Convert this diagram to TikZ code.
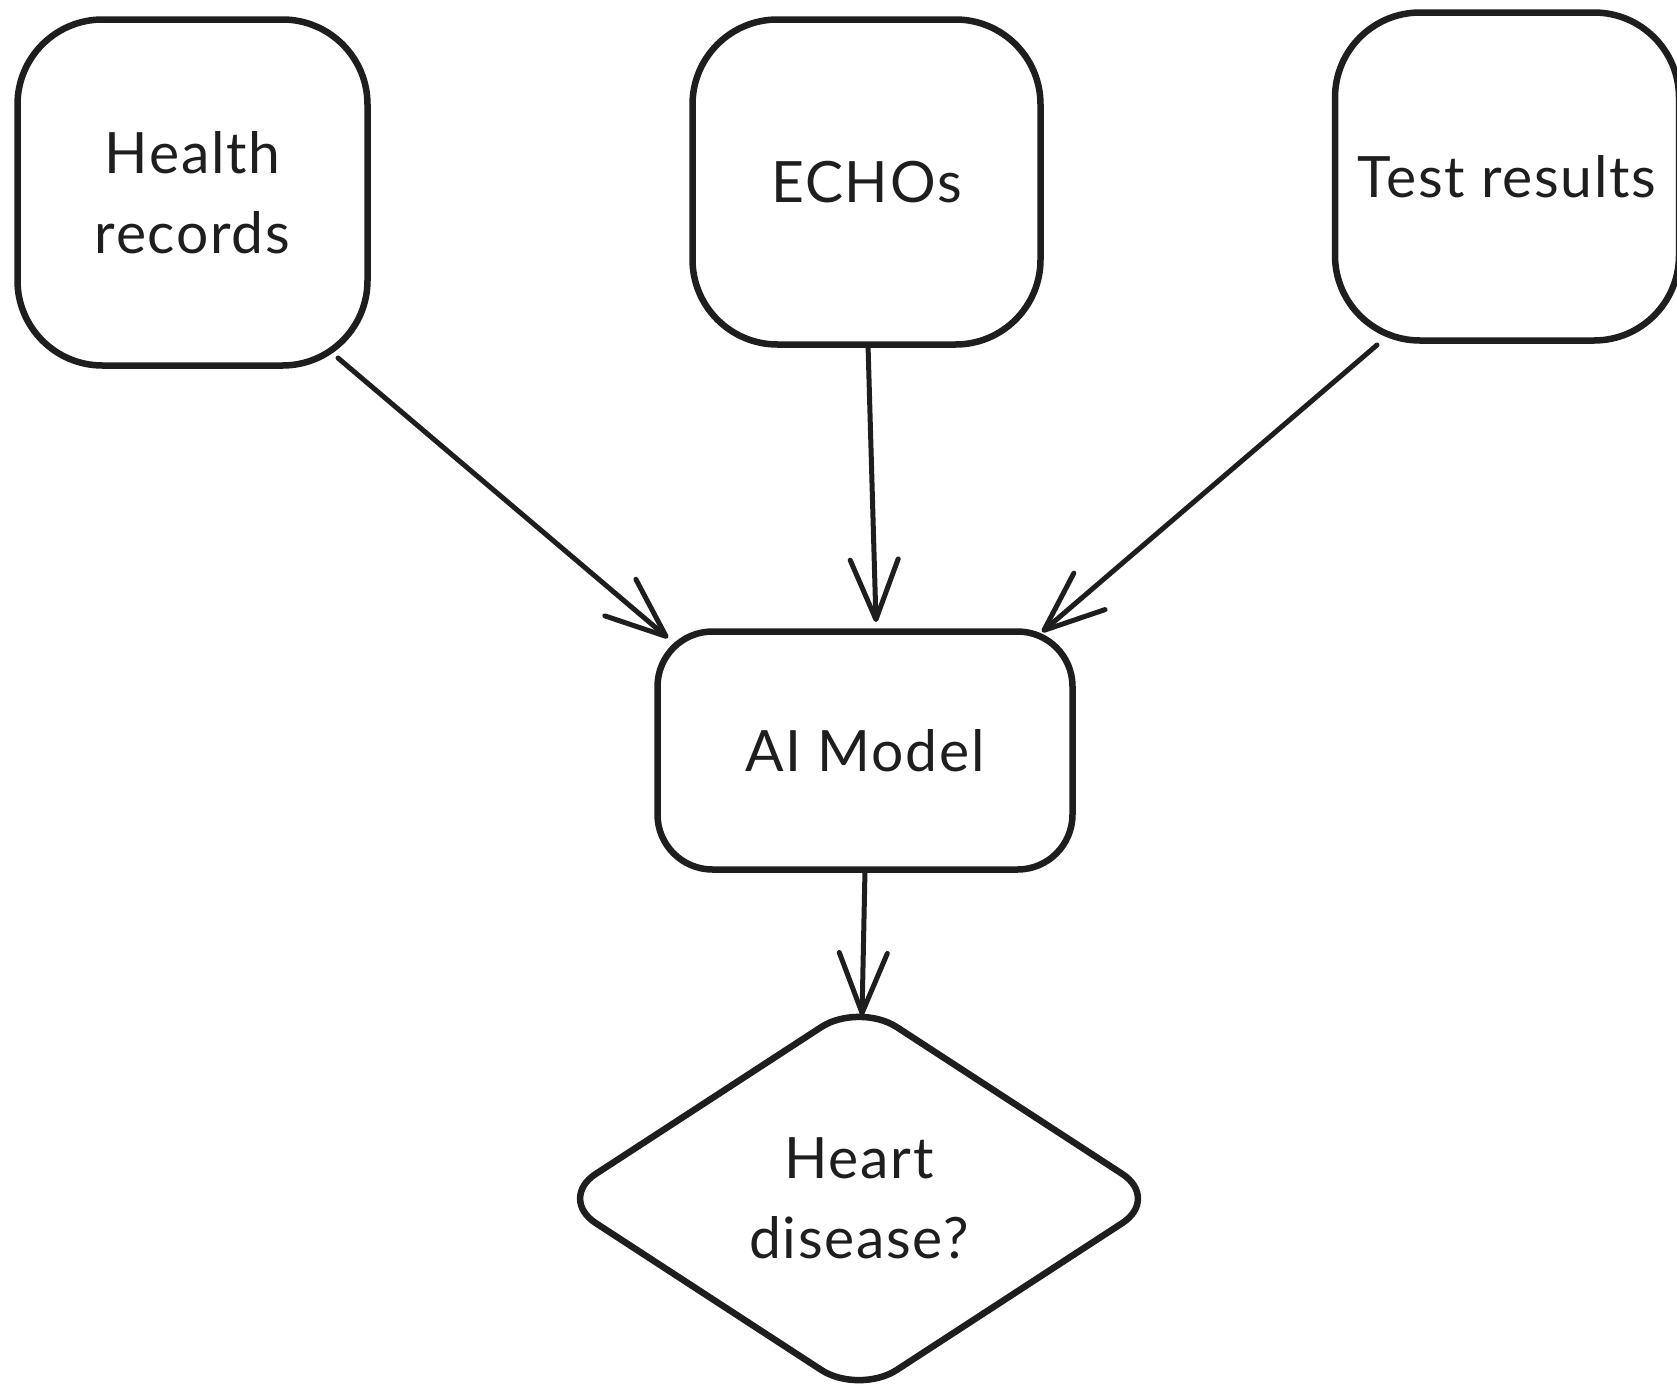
\documentclass[tikz,border=0pt]{standalone}
\usepackage{fontspec}
\setmainfont[LetterSpace=3.0]{Lato}
\usetikzlibrary{arrows.meta,shapes.geometric}
\definecolor{ink}{HTML}{1E1E1E}

\begin{document}
\begin{tikzpicture}[x=1pt, y=-1pt,
  >={Straight Barb[length=60pt,width=48pt,round]},
  font=\fontsize{57}{80}\selectfont,
  inbox/.style={draw=ink, text=ink, line width=6.5pt, rounded corners=85pt,
    align=center, inner sep=0pt, outer sep=0pt},
  modelbox/.style={draw=ink, text=ink, line width=6.5pt, rounded corners=55pt,
    align=center, inner sep=0pt, outer sep=0pt},
  decision/.style={draw=ink, text=ink, diamond, line width=6.5pt, rounded corners=45pt,
    align=center, inner sep=0pt, outer sep=0pt},
  link/.style={->, draw=ink, line width=5pt, line cap=round}]
  %% Page
  \useasboundingbox (0,0) rectangle (1677,1384);
  \fill[white] (0,0) rectangle (1677,1384);

  %% Inputs
  \node[inbox, minimum width=350pt, minimum height=346pt] (health) at (192.5,192.5)
    {Health\\records};
  \node[inbox, minimum width=348pt, minimum height=325pt] (echos) at (866.5,182)
    {ECHOs};
  \node[inbox, minimum width=344pt, minimum height=328pt] (tests) at (1507,176.5)
    {Test results};

  %% Model and outcome
  \node[modelbox, minimum width=415pt, minimum height=238pt] (model) at (865,750.5)
    {AI Model};
  \node[decision, minimum width=602pt, minimum height=392pt] (heart) at (859,1198.5)
    {Heart\\disease?};

  %% Connectors
  \draw[link] ([shift={(-29.5,-7.5)}]health.south east) -- ([shift={(10.5,6.5)}]model.north west);
  \draw[link] ([shift={(1.5,0)}]echos.south) -- ([shift={(11,-9.5)}]model.north);
  \draw[link] ([shift={(42,4.5)}]tests.south west) -- ([shift={(-30.5,0.5)}]model.north east);
  \draw[link] (model.south) -- ([shift={(3,13)}]heart.north);
\end{tikzpicture}
\end{document}
